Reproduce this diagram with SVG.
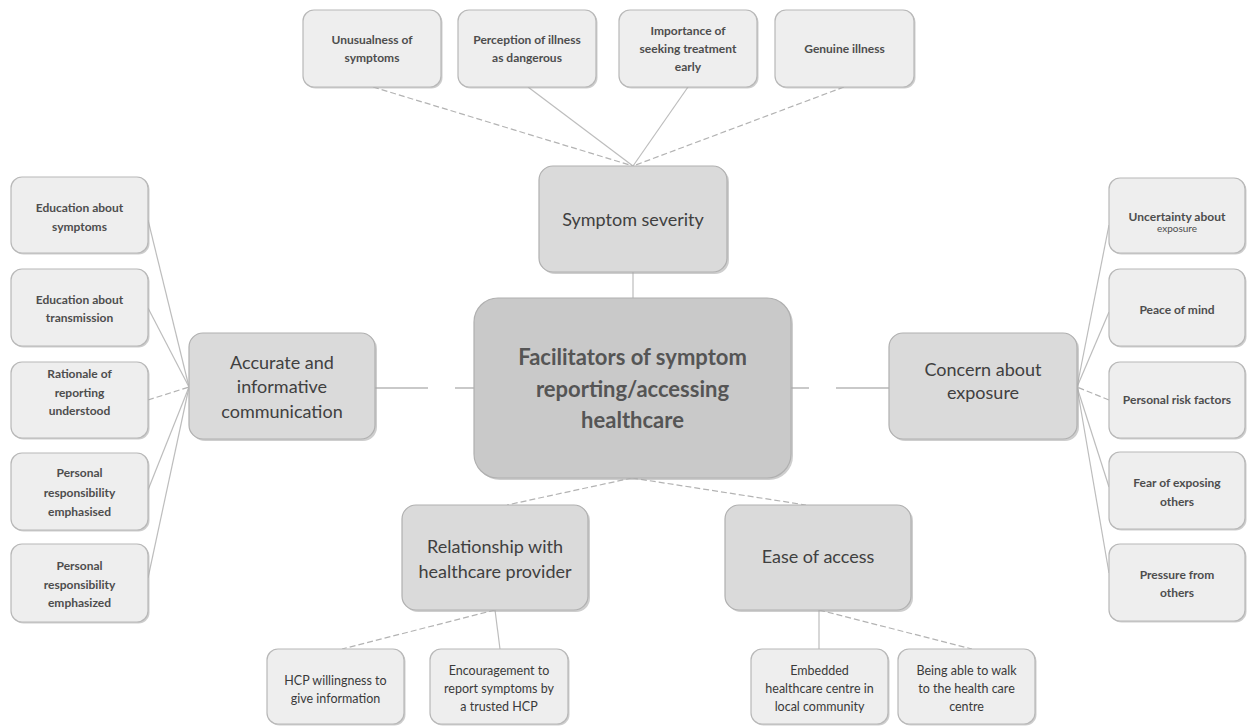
<svg xmlns="http://www.w3.org/2000/svg" width="1248" height="726" viewBox="0 0 1248 726">
<style>
  .bg{fill:#ffffff}
  .sm{fill:#eeeeee;stroke:#b8b8b8;stroke-width:1.2}
  .sec{fill:#dadada;stroke:#b0b0b0;stroke-width:1.2}
  .ctr{fill:#c9c9c9;stroke:#b0b0b0;stroke-width:1.2}
  .sh{fill:#a6a6a6;opacity:0.55}
  .tsm{font-family:Lato,"Liberation Sans",sans-serif;font-size:12px;font-weight:700;fill:#4d4d4d;text-anchor:middle}
  .tbt{font-family:Lato,"Liberation Sans",sans-serif;font-size:12.5px;font-weight:400;fill:#3a3a3a;text-anchor:middle}
  .tsec{font-family:Lato,"Liberation Sans",sans-serif;font-size:18px;fill:#404040;text-anchor:middle}
  .tctr{font-family:Lato,"Liberation Sans",sans-serif;font-size:22px;font-weight:700;fill:#555555;text-anchor:middle}
  .solid{stroke:#bdbdbd;stroke-width:1.2;fill:none}
  .dash{stroke:#b3b3b3;stroke-width:1.2;fill:none;stroke-dasharray:6 3}
  .ldash{stroke:#b8b8b8;stroke-width:1.6;fill:none;stroke-dasharray:53 27}
</style>
<rect class="bg" x="0" y="0" width="1248" height="726"/>

<g id="connectors">
  <line class="dash" x1="373" y1="87" x2="633" y2="166"/>
  <line class="solid" x1="528" y1="87" x2="633" y2="166"/>
  <line class="solid" x1="688" y1="87" x2="633" y2="166"/>
  <line class="dash" x1="844" y1="87" x2="633" y2="166"/>
  <line class="solid" x1="633" y1="272" x2="633" y2="298"/>
  <line class="solid" x1="148" y1="220" x2="189" y2="387"/>
  <line class="solid" x1="148" y1="308" x2="189" y2="387"/>
  <line class="dash" x1="148" y1="400" x2="189" y2="387"/>
  <line class="solid" x1="148" y1="490" x2="189" y2="387"/>
  <line class="solid" x1="148" y1="578" x2="189" y2="387"/>
  <line class="solid" x1="1109" y1="225" x2="1077" y2="387"/>
  <line class="solid" x1="1109" y1="312" x2="1077" y2="387"/>
  <line class="dash" x1="1109" y1="400" x2="1077" y2="387"/>
  <line class="solid" x1="1109" y1="487" x2="1077" y2="387"/>
  <line class="solid" x1="1109" y1="573" x2="1077" y2="387"/>
  <line class="ldash" x1="375" y1="388" x2="474" y2="388"/>
  <line class="ldash" x1="889" y1="388" x2="791" y2="388"/>
  <line class="dash" x1="632" y1="478" x2="507" y2="505"/>
  <line class="dash" x1="632" y1="478" x2="806" y2="505"/>
  <line class="dash" x1="495" y1="610" x2="342" y2="649"/>
  <line class="solid" x1="495" y1="610" x2="500" y2="649"/>
  <line class="solid" x1="819" y1="610" x2="819" y2="649"/>
  <line class="dash" x1="819" y1="610" x2="972" y2="649"/>
</g>

<g id="center">
  <rect class="sh" x="476" y="300" width="317" height="180" rx="24"/>
  <rect class="ctr" x="474" y="298" width="317" height="180" rx="24"/>
  <text class="tctr"><tspan x="632.5" y="365">Facilitators of symptom</tspan><tspan x="632.5" y="397">reporting/accessing</tspan><tspan x="632.5" y="428">healthcare</tspan></text>
</g>

<g id="symptom-severity">
  <rect class="sh" x="541" y="168" width="188" height="106" rx="14"/>
  <rect class="sec" x="539" y="166" width="188" height="106" rx="14"/>
  <text class="tsec" x="633" y="226">Symptom severity</text>
</g>
<g id="accurate-communication">
  <rect class="sh" x="191" y="335" width="186" height="106" rx="14"/>
  <rect class="sec" x="189" y="333" width="186" height="106" rx="14"/>
  <text class="tsec"><tspan x="282" y="369">Accurate and</tspan><tspan x="282" y="393">informative</tspan><tspan x="282" y="418">communication</tspan></text>
</g>
<g id="concern-exposure">
  <rect class="sh" x="891" y="335" width="188" height="106" rx="14"/>
  <rect class="sec" x="889" y="333" width="188" height="106" rx="14"/>
  <text class="tsec"><tspan x="983" y="376">Concern about</tspan><tspan x="983" y="399">exposure</tspan></text>
</g>
<g id="relationship-hcp">
  <rect class="sh" x="404" y="507" width="186" height="105" rx="14"/>
  <rect class="sec" x="402" y="505" width="186" height="105" rx="14"/>
  <text class="tsec"><tspan x="495" y="553">Relationship with</tspan><tspan x="495" y="578">healthcare provider</tspan></text>
</g>
<g id="ease-access">
  <rect class="sh" x="727" y="507" width="186" height="105" rx="14"/>
  <rect class="sec" x="725" y="505" width="186" height="105" rx="14"/>
  <text class="tsec" x="818" y="563">Ease of access</text>
</g>

<g id="unusualness">
  <rect class="sh" x="304.5" y="11.5" width="138" height="77" rx="11"/>
  <rect class="sm" x="303" y="10" width="138" height="77" rx="11"/>
  <text class="tsm"><tspan x="372" y="44">Unusualness of</tspan><tspan x="372" y="62">symptoms</tspan></text>
</g>
<g id="perception">
  <rect class="sh" x="459.5" y="11.5" width="138" height="77" rx="11"/>
  <rect class="sm" x="458" y="10" width="138" height="77" rx="11"/>
  <text class="tsm"><tspan x="527" y="44">Perception of illness</tspan><tspan x="527" y="62">as dangerous</tspan></text>
</g>
<g id="importance">
  <rect class="sh" x="620.5" y="11.5" width="138" height="77" rx="11"/>
  <rect class="sm" x="619" y="10" width="138" height="77" rx="11"/>
  <text class="tsm"><tspan x="688" y="35">Importance of</tspan><tspan x="688" y="53">seeking treatment</tspan><tspan x="688" y="71">early</tspan></text>
</g>
<g id="genuine">
  <rect class="sh" x="776.5" y="11.5" width="139" height="77" rx="11"/>
  <rect class="sm" x="775" y="10" width="139" height="77" rx="11"/>
  <text class="tsm" x="844.5" y="53">Genuine illness</text>
</g>

<g id="edu-symptoms">
  <rect class="sh" x="12.5" y="178.5" width="137" height="76" rx="11"/>
  <rect class="sm" x="11" y="177" width="137" height="76" rx="11"/>
  <text class="tsm"><tspan x="79.5" y="212">Education about</tspan><tspan x="79.5" y="231">symptoms</tspan></text>
</g>
<g id="edu-transmission">
  <rect class="sh" x="12.5" y="270.5" width="137" height="77" rx="11"/>
  <rect class="sm" x="11" y="269" width="137" height="77" rx="11"/>
  <text class="tsm"><tspan x="79.5" y="304">Education about</tspan><tspan x="79.5" y="322">transmission</tspan></text>
</g>
<g id="rationale">
  <rect class="sh" x="12.5" y="363.5" width="137" height="76" rx="11"/>
  <rect class="sm" x="11" y="362" width="137" height="76" rx="11"/>
  <text class="tsm"><tspan x="79.5" y="378">Rationale of</tspan><tspan x="79.5" y="397">reporting</tspan><tspan x="79.5" y="415">understood</tspan></text>
</g>
<g id="responsibility-s">
  <rect class="sh" x="12.5" y="454.5" width="137" height="77" rx="11"/>
  <rect class="sm" x="11" y="453" width="137" height="77" rx="11"/>
  <text class="tsm"><tspan x="79.5" y="477">Personal</tspan><tspan x="79.5" y="497">responsibility</tspan><tspan x="79.5" y="516">emphasised</tspan></text>
</g>
<g id="responsibility-z">
  <rect class="sh" x="12.5" y="545.5" width="137" height="78" rx="11"/>
  <rect class="sm" x="11" y="544" width="137" height="78" rx="11"/>
  <text class="tsm"><tspan x="79.5" y="570">Personal</tspan><tspan x="79.5" y="589">responsibility</tspan><tspan x="79.5" y="607">emphasized</tspan></text>
</g>

<g id="uncertainty">
  <rect class="sh" x="1110.5" y="179.5" width="136" height="75" rx="11"/>
  <rect class="sm" x="1109" y="178" width="136" height="75" rx="11"/>
  <text class="tsm"><tspan x="1177" y="221">Uncertainty about</tspan><tspan x="1177" y="232" style="font-size:10px;font-weight:400">exposure</tspan></text>
</g>
<g id="peace">
  <rect class="sh" x="1110.5" y="270.5" width="136" height="77" rx="11"/>
  <rect class="sm" x="1109" y="269" width="136" height="77" rx="11"/>
  <text class="tsm" x="1177" y="314">Peace of mind</text>
</g>
<g id="risk-factors">
  <rect class="sh" x="1110.5" y="363.5" width="136" height="76" rx="11"/>
  <rect class="sm" x="1109" y="362" width="136" height="76" rx="11"/>
  <text class="tsm" x="1177" y="404">Personal risk factors</text>
</g>
<g id="fear-exposing">
  <rect class="sh" x="1110.5" y="453.5" width="136" height="77" rx="11"/>
  <rect class="sm" x="1109" y="452" width="136" height="77" rx="11"/>
  <text class="tsm"><tspan x="1177" y="487">Fear of exposing</tspan><tspan x="1177" y="506">others</tspan></text>
</g>
<g id="pressure">
  <rect class="sh" x="1110.5" y="545.5" width="136" height="77" rx="11"/>
  <rect class="sm" x="1109" y="544" width="136" height="77" rx="11"/>
  <text class="tsm"><tspan x="1177" y="579">Pressure from</tspan><tspan x="1177" y="597">others</tspan></text>
</g>

<g id="hcp-willingness">
  <rect class="sh" x="268.5" y="650.5" width="137" height="75" rx="11"/>
  <rect class="sm" x="267" y="649" width="137" height="75" rx="11"/>
  <text class="tbt"><tspan x="335.5" y="685">HCP willingness to</tspan><tspan x="335.5" y="703">give information</tspan></text>
</g>
<g id="encouragement">
  <rect class="sh" x="431.5" y="650.5" width="138" height="75" rx="11"/>
  <rect class="sm" x="430" y="649" width="138" height="75" rx="11"/>
  <text class="tbt"><tspan x="499" y="675">Encouragement to</tspan><tspan x="499" y="693">report symptoms by</tspan><tspan x="499" y="711">a trusted HCP</tspan></text>
</g>
<g id="embedded">
  <rect class="sh" x="752.5" y="650.5" width="137" height="75" rx="11"/>
  <rect class="sm" x="751" y="649" width="137" height="75" rx="11"/>
  <text class="tbt"><tspan x="819.5" y="675">Embedded</tspan><tspan x="819.5" y="693">healthcare centre in</tspan><tspan x="819.5" y="711">local community</tspan></text>
</g>
<g id="walk">
  <rect class="sh" x="899.5" y="650.5" width="137" height="75" rx="11"/>
  <rect class="sm" x="898" y="649" width="137" height="75" rx="11"/>
  <text class="tbt"><tspan x="966.5" y="675">Being able to walk</tspan><tspan x="966.5" y="693">to the health care</tspan><tspan x="966.5" y="711">centre</tspan></text>
</g>
</svg>
